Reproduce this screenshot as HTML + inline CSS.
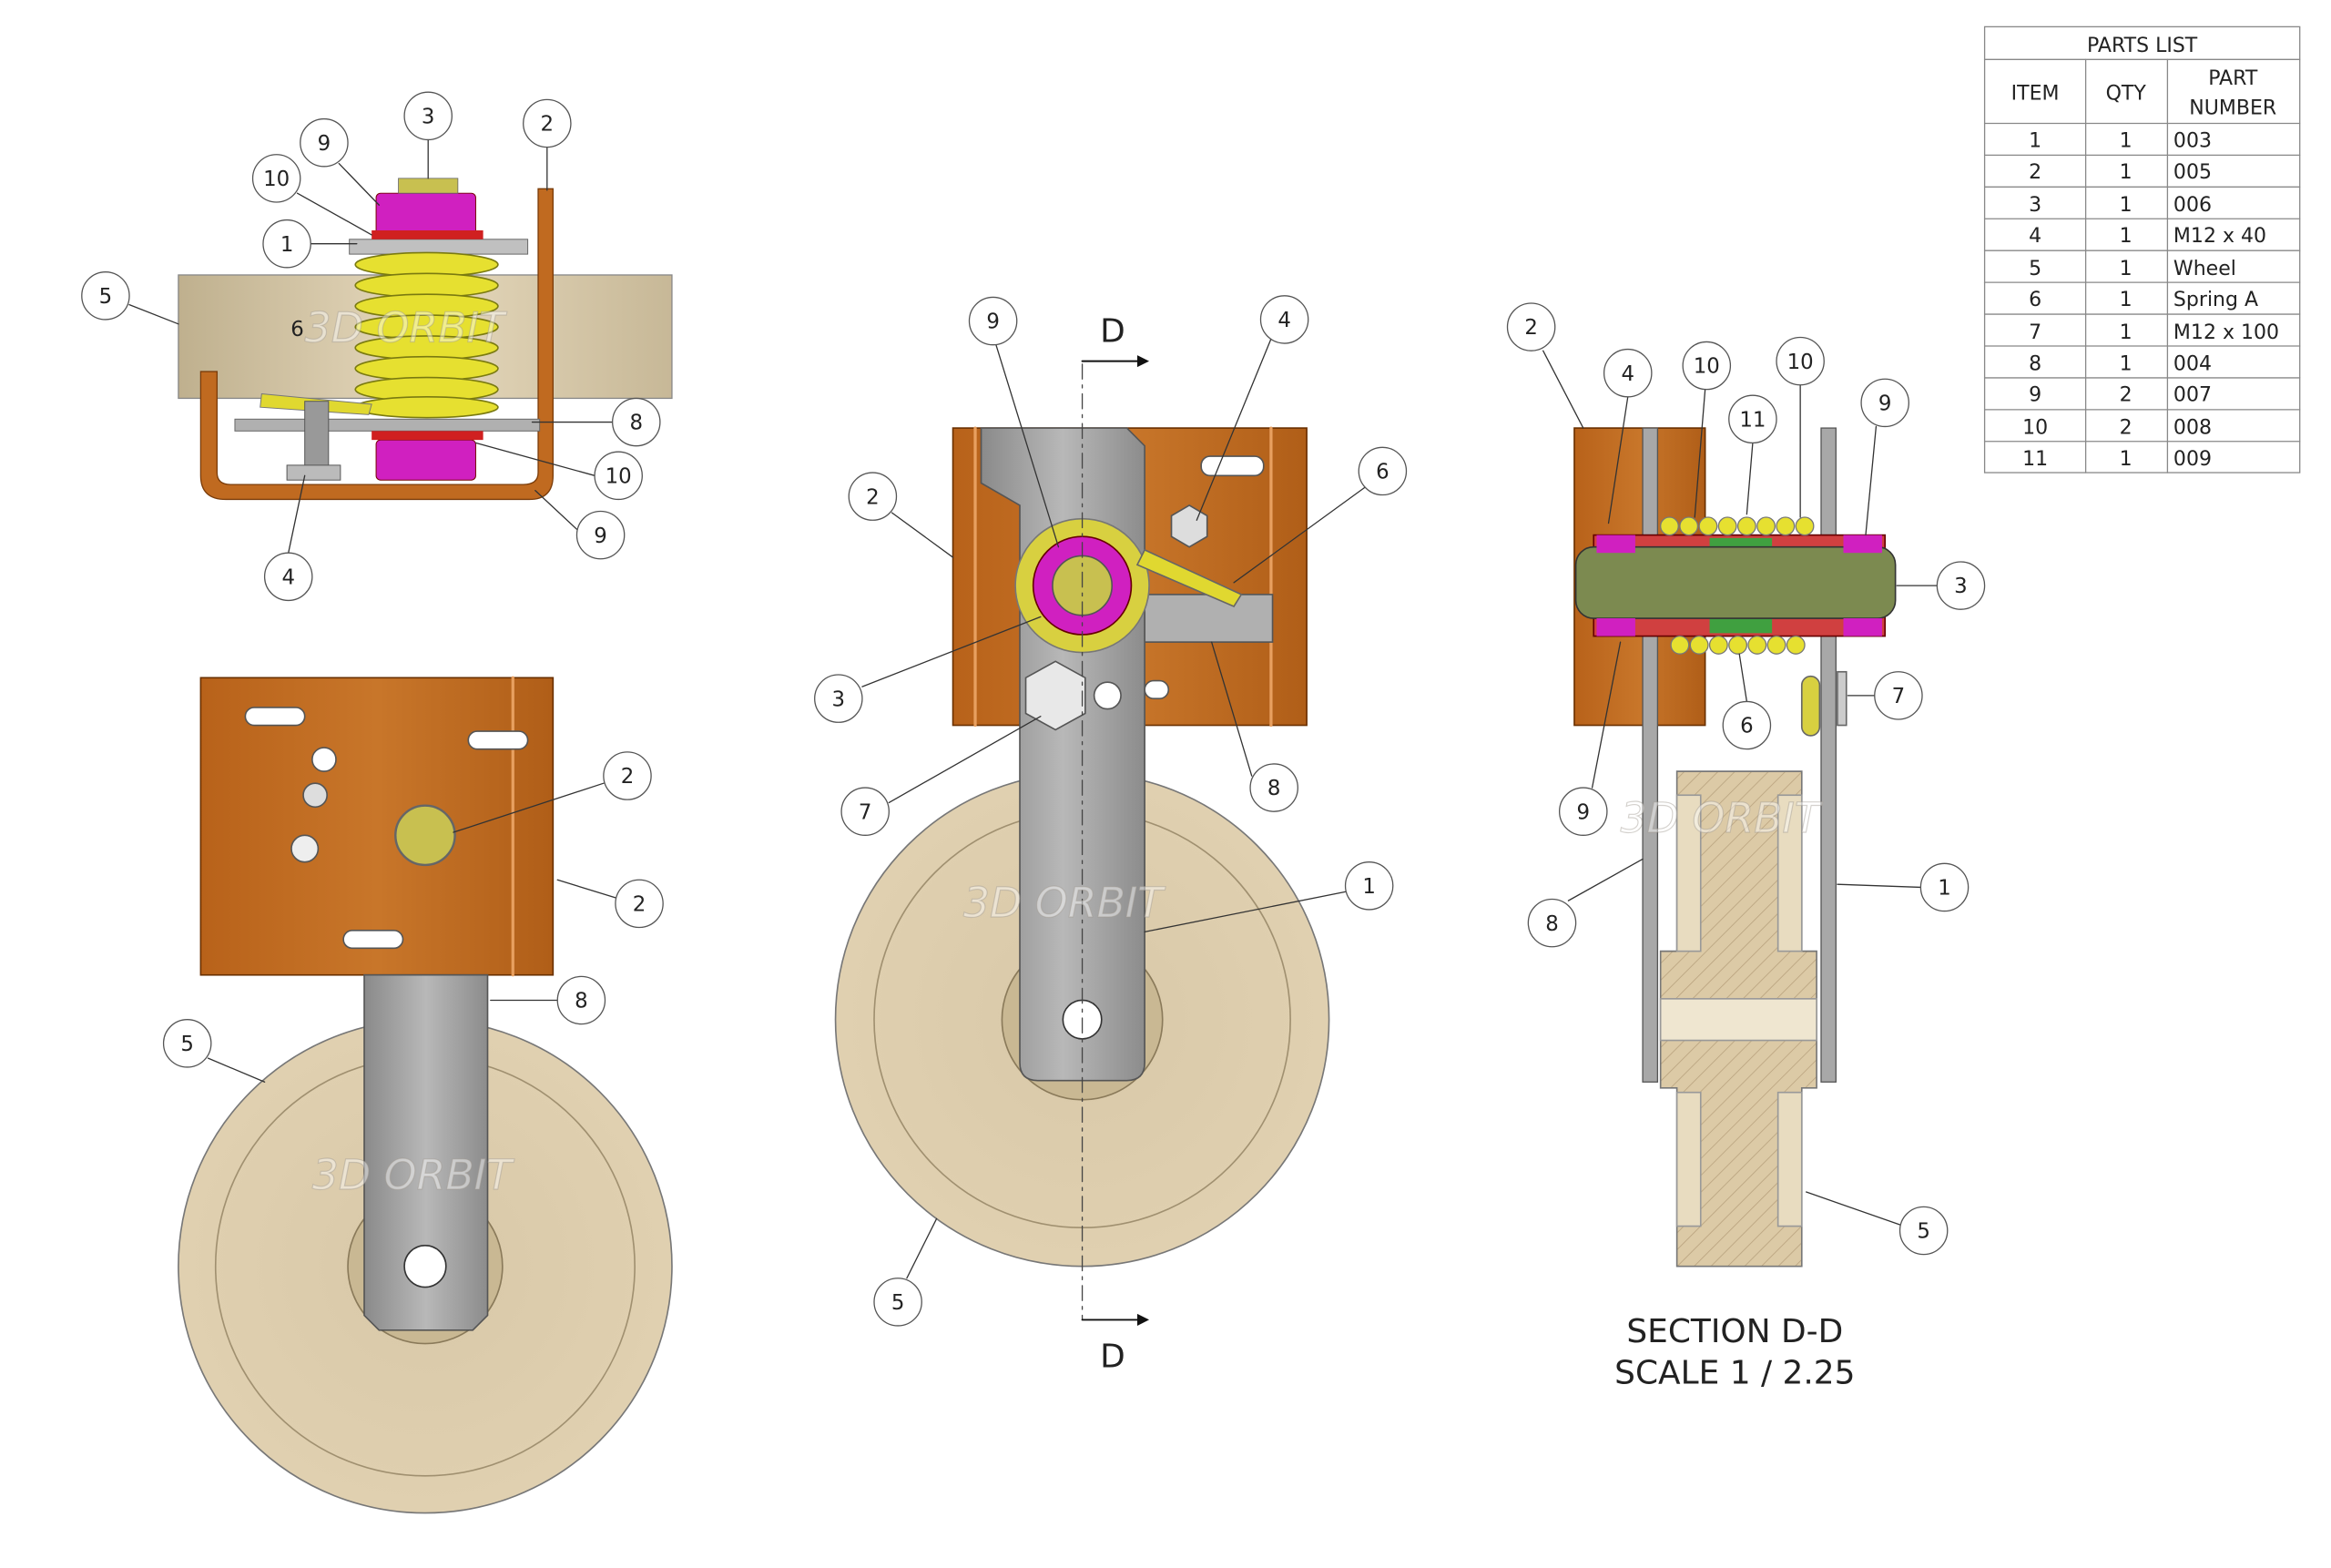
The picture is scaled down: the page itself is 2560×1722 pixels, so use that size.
<!DOCTYPE html>
<html><head><meta charset="utf-8"><style>
html,body{margin:0;padding:0;background:#fff}
svg{display:block}
text{font-family:"DejaVu Sans","Liberation Sans",sans-serif;fill:#222}
text.wm{fill:#ffffff;fill-opacity:.45;stroke:#a09a90;stroke-opacity:.45;stroke-width:.7;font-style:italic;font-size:28px}
</style></head><body>
<svg width="2560" height="1722" viewBox="0 0 1568 1055" preserveAspectRatio="none" xmlns="http://www.w3.org/2000/svg">
<defs>
<linearGradient id="or" x1="0" x2="1"><stop offset="0" stop-color="#b8621a"/><stop offset=".5" stop-color="#c8762a"/><stop offset="1" stop-color="#b05e18"/></linearGradient>
<linearGradient id="tan" x1="0" x2="1"><stop offset="0" stop-color="#bfb08e"/><stop offset=".5" stop-color="#e6d9bd"/><stop offset="1" stop-color="#c7b897"/></linearGradient>
<radialGradient id="wh"><stop offset="0" stop-color="#d8c8a8"/><stop offset="1" stop-color="#e0d0b0"/></radialGradient>
<linearGradient id="gr" x1="0" x2="1"><stop offset="0" stop-color="#8a8a8a"/><stop offset=".5" stop-color="#b8b8b8"/><stop offset="1" stop-color="#8c8c8c"/></linearGradient>
<pattern id="hatch" width="8" height="8" patternUnits="userSpaceOnUse" patternTransform="rotate(45)"><rect width="8" height="8" fill="#dccaa6"/><line x1="0" y1="0" x2="0" y2="8" stroke="#b9a37f" stroke-width="1"/></pattern>
</defs>
<g stroke-linecap="round">
<!-- TOP LEFT VIEW -->
<rect x="120" y="185" width="332" height="83" fill="url(#tan)" stroke="#888" stroke-width=".8"/>
<path d="M135 250 V320 Q135 336 152 336 H356 Q372 336 372 320 V127 H362 V318 Q362 326 352 326 H155 Q146 326 146 318 V250 Z" fill="#c06a20" stroke="#7a3c0a" stroke-width=".8"/>
<rect x="158" y="282" width="205" height="8" fill="#b0b0b0" stroke="#666" stroke-width=".6"/>
<rect x="235" y="161" width="120" height="10" fill="#c0c0c0" stroke="#666" stroke-width=".6"/>
<g fill="#e6e030" stroke="#7a7a10" stroke-width="1">
<ellipse cx="287" cy="178" rx="48" ry="8"/><ellipse cx="287" cy="192" rx="48" ry="8"/><ellipse cx="287" cy="206" rx="48" ry="8"/><ellipse cx="287" cy="220" rx="48" ry="8"/><ellipse cx="287" cy="234" rx="48" ry="8"/><ellipse cx="287" cy="248" rx="48" ry="8"/><ellipse cx="287" cy="262" rx="48" ry="8"/><ellipse cx="287" cy="274" rx="48" ry="7"/>
</g>
<path d="M176 265 L250 272 L248 279 L175 274 Z" fill="#e0d830" stroke="#777" stroke-width=".6"/>
<rect x="253" y="130" width="67" height="28" rx="3" fill="#d020c0" stroke="#700" stroke-width=".6"/>
<rect x="250" y="155" width="75" height="6" fill="#d02020"/>
<rect x="268" y="120" width="40" height="10" fill="#c8c050" stroke="#666" stroke-width=".5"/>
<rect x="253" y="296" width="67" height="27" rx="3" fill="#d020c0" stroke="#700" stroke-width=".6"/>
<rect x="250" y="290" width="75" height="6" fill="#d02020"/>
<rect x="205" y="270" width="16" height="44" fill="#999" stroke="#555" stroke-width=".6"/>
<rect x="193" y="313" width="36" height="10" fill="#bbb" stroke="#555" stroke-width=".6"/>
<text x="205" y="230" class="wm">3D ORBIT</text>

<!-- BOTTOM LEFT VIEW -->
<circle cx="286" cy="852" r="166" fill="url(#wh)" stroke="#777" stroke-width="1"/>
<circle cx="286" cy="852" r="141" fill="none" stroke="#a09070" stroke-width="1"/>
<circle cx="286" cy="852" r="52" fill="#c9b893" stroke="#8a7a5a" stroke-width="1"/>
<rect x="135" y="456" width="237" height="200" fill="url(#or)" stroke="#6a3000" stroke-width="1"/>
<line x1="345" y1="456" x2="345" y2="656" stroke="#e8a060" stroke-width="2"/>
<rect x="165" y="476" width="40" height="12" rx="6" fill="#fff" stroke="#555"/>
<rect x="315" y="492" width="40" height="12" rx="6" fill="#fff" stroke="#555"/>
<rect x="231" y="626" width="40" height="12" rx="6" fill="#fff" stroke="#555"/>
<circle cx="218" cy="511" r="8" fill="#fff" stroke="#555"/>
<circle cx="212" cy="535" r="8" fill="#ddd" stroke="#555"/>
<circle cx="205" cy="571" r="9" fill="#eee" stroke="#555"/>
<circle cx="286" cy="562" r="20" fill="#c8c050" stroke="#666" stroke-width="1.5"/>
<path d="M245 656 H328 V885 L318 895 H255 L245 885 Z" fill="url(#gr)" stroke="#555" stroke-width="1"/>
<circle cx="286" cy="852" r="14" fill="#fff" stroke="#333"/>
<text x="210" y="800" class="wm">3D ORBIT</text>

<!-- MIDDLE VIEW -->
<circle cx="728" cy="686" r="166" fill="url(#wh)" stroke="#777" stroke-width="1"/>
<circle cx="728" cy="686" r="140" fill="none" stroke="#a09070" stroke-width="1"/>
<circle cx="728" cy="686" r="54" fill="#c9b893" stroke="#8a7a5a"/>
<rect x="641" y="288" width="238" height="200" fill="url(#or)" stroke="#6a3000" stroke-width="1"/>
<line x1="656" y1="288" x2="656" y2="488" stroke="#e8a060" stroke-width="2"/>
<line x1="855" y1="288" x2="855" y2="488" stroke="#e8a060" stroke-width="2"/>
<rect x="808" y="307" width="42" height="13" rx="6" fill="#fff" stroke="#555"/>
<rect x="770" y="458" width="16" height="12" rx="6" fill="#fff" stroke="#555"/>
<rect x="770" y="400" width="86" height="32" fill="#b0b0b0" stroke="#555"/>
<path d="M660 288 H758 L770 300 V715 Q770 727 758 727 H698 Q686 727 686 715 V340 L660 325 Z" fill="url(#gr)" stroke="#555" stroke-width="1"/>
<circle cx="728" cy="686" r="13" fill="#fff" stroke="#333"/>
<circle cx="728" cy="394" r="45" fill="#d8d040" stroke="#777"/>
<circle cx="728" cy="394" r="33" fill="#d020c0" stroke="#600"/>
<circle cx="728" cy="394" r="20" fill="#c8c050" stroke="#555"/>
<path d="M770 370 L835 400 L830 408 L765 380 Z" fill="#e0d830" stroke="#666"/>
<polygon points="800,340 812,347 812,361 800,368 788,361 788,347" fill="#ddd" stroke="#555"/>
<polygon points="710,445 730,456 730,480 710,491 690,480 690,456" fill="#e8e8e8" stroke="#555"/>
<circle cx="745" cy="468" r="9" fill="#fff" stroke="#555"/>
<line x1="728" y1="245" x2="728" y2="888" stroke="#444" stroke-width=".8" stroke-dasharray="10,4,2,4"/>
<line x1="728" y1="243" x2="765" y2="243" stroke="#111" stroke-width="1.2"/><polygon points="765,239 765,247 773,243" fill="#111"/>
<line x1="728" y1="888" x2="765" y2="888" stroke="#111" stroke-width="1.2"/><polygon points="765,884 765,892 773,888" fill="#111"/>
<text x="740" y="230" font-size="22">D</text>
<text x="740" y="920" font-size="22">D</text>
<text x="648" y="617" class="wm">3D ORBIT</text>

<!-- RIGHT SECTION -->
<rect x="1059" y="288" width="88" height="200" fill="url(#or)" stroke="#6a3000"/>
<rect x="1105" y="288" width="10" height="440" fill="#a8a8a8" stroke="#555" stroke-width=".8"/>
<rect x="1225" y="288" width="10" height="440" fill="#a8a8a8" stroke="#555" stroke-width=".8"/>
<path d="M1128 519 H1212 V640 H1222 V732 H1212 V852 H1128 V732 H1117 V640 H1128 Z" fill="url(#hatch)" stroke="#777"/>
<rect x="1128" y="535" width="16" height="105" fill="#e8dcc0" stroke="#999"/>
<rect x="1196" y="535" width="16" height="105" fill="#e8dcc0" stroke="#999"/>
<rect x="1128" y="735" width="16" height="90" fill="#e8dcc0" stroke="#999"/>
<rect x="1196" y="735" width="16" height="90" fill="#e8dcc0" stroke="#999"/>
<rect x="1117" y="672" width="105" height="28" fill="#efe6d0" stroke="#999"/>
<rect x="1072" y="360" width="196" height="68" fill="#d04040" stroke="#600"/>
<rect x="1150" y="362" width="42" height="64" fill="#40a040"/>
<rect x="1060" y="368" width="215" height="48" rx="12" fill="#7c8a50" stroke="#333"/>
<rect x="1074" y="360" width="26" height="12" fill="#d020c0"/><rect x="1074" y="416" width="26" height="12" fill="#d020c0"/>
<rect x="1240" y="360" width="26" height="12" fill="#d020c0"/><rect x="1240" y="416" width="26" height="12" fill="#d020c0"/>
<g fill="#e6e030" stroke="#777" stroke-width=".8">
<circle cx="1123" cy="354" r="6"/><circle cx="1136" cy="354" r="6"/><circle cx="1149" cy="354" r="6"/><circle cx="1162" cy="354" r="6"/><circle cx="1175" cy="354" r="6"/><circle cx="1188" cy="354" r="6"/><circle cx="1201" cy="354" r="6"/><circle cx="1214" cy="354" r="6"/>
<circle cx="1130" cy="434" r="6"/><circle cx="1143" cy="434" r="6"/><circle cx="1156" cy="434" r="6"/><circle cx="1169" cy="434" r="6"/><circle cx="1182" cy="434" r="6"/><circle cx="1195" cy="434" r="6"/><circle cx="1208" cy="434" r="6"/>
</g>
<rect x="1212" y="455" width="12" height="40" rx="6" fill="#d8d040" stroke="#666"/>
<rect x="1236" y="452" width="6" height="36" fill="#ccc" stroke="#666"/>
<text x="1090" y="560" class="wm">3D ORBIT</text>
<text x="1167" y="903" font-size="22" text-anchor="middle">SECTION D-D</text>
<text x="1167" y="931" font-size="22" text-anchor="middle">SCALE 1 / 2.25</text>

<!-- LEADERS -->
<g stroke="#333" stroke-width=".8" fill="none">
<path d="M288 94 V120 M368 99 V128 M228 110 L255 138 M200 130 L250 158 M209 164 H240 M87 205 L120 218 M412 284 H358 M400 320 L320 298 M390 358 L360 330 M194 372 L205 320"/>
<path d="M406 527 L305 560 M414 604 L375 592 M375 673 H330 M140 712 L178 728"/>
<path d="M670 232 L712 368 M855 228 L805 350 M600 345 L641 375 M918 328 L830 392 M580 462 L700 415 M842 522 L815 432 M598 540 L700 482 M905 600 L770 627 M610 860 L630 820"/>
<path d="M1038 236 L1065 288 M1095 267 L1082 352 M1147 262 L1140 348 M1211 259 V348 M1179 298 L1175 346 M1262 287 L1255 360 M1303 394 H1276 M1261 468 H1243 M1175 472 L1170 440 M1071 530 L1090 432 M1292 597 L1236 595 M1055 606 L1105 578 M1278 824 L1215 802"/>
</g>
<!-- BALLOONS -->
<g fill="#fff" stroke="#555" stroke-width=".8">
<circle cx="288" cy="78" r="16"/><circle cx="368" cy="83" r="16"/><circle cx="218" cy="96" r="16"/><circle cx="186" cy="120" r="16"/><circle cx="193" cy="164" r="16"/><circle cx="71" cy="199" r="16"/><circle cx="428" cy="284" r="16"/><circle cx="416" cy="320" r="16"/><circle cx="404" cy="360" r="16"/><circle cx="194" cy="388" r="16"/>
<circle cx="422" cy="522" r="16"/><circle cx="430" cy="608" r="16"/><circle cx="391" cy="673" r="16"/><circle cx="126" cy="702" r="16"/>
<circle cx="668" cy="216" r="16"/><circle cx="864" cy="215" r="16"/><circle cx="587" cy="334" r="16"/><circle cx="930" cy="317" r="16"/><circle cx="564" cy="470" r="16"/><circle cx="857" cy="530" r="16"/><circle cx="582" cy="546" r="16"/><circle cx="921" cy="596" r="16"/><circle cx="604" cy="876" r="16"/>
<circle cx="1030" cy="220" r="16"/><circle cx="1095" cy="251" r="16"/><circle cx="1148" cy="246" r="16"/><circle cx="1211" cy="243" r="16"/><circle cx="1179" cy="282" r="16"/><circle cx="1268" cy="271" r="16"/><circle cx="1319" cy="394" r="16"/><circle cx="1277" cy="468" r="16"/><circle cx="1175" cy="488" r="16"/><circle cx="1065" cy="546" r="16"/><circle cx="1308" cy="597" r="16"/><circle cx="1044" cy="621" r="16"/><circle cx="1294" cy="828" r="16"/>
</g>
<g font-size="14" text-anchor="middle">
<text x="288" y="83">3</text><text x="368" y="88">2</text><text x="218" y="101">9</text><text x="186" y="125">10</text><text x="193" y="169">1</text><text x="71" y="204">5</text><text x="200" y="226">6</text><text x="428" y="289">8</text><text x="416" y="325">10</text><text x="404" y="365">9</text><text x="194" y="393">4</text>
<text x="422" y="527">2</text><text x="430" y="613">2</text><text x="391" y="678">8</text><text x="126" y="707">5</text>
<text x="668" y="221">9</text><text x="864" y="220">4</text><text x="587" y="339">2</text><text x="930" y="322">6</text><text x="564" y="475">3</text><text x="857" y="535">8</text><text x="582" y="551">7</text><text x="921" y="601">1</text><text x="604" y="881">5</text>
<text x="1030" y="225">2</text><text x="1095" y="256">4</text><text x="1148" y="251">10</text><text x="1211" y="248">10</text><text x="1179" y="287">11</text><text x="1268" y="276">9</text><text x="1319" y="399">3</text><text x="1277" y="473">7</text><text x="1175" y="493">6</text><text x="1065" y="551">9</text><text x="1308" y="602">1</text><text x="1044" y="626">8</text><text x="1294" y="833">5</text>
</g>

<!-- PARTS LIST -->
<g fill="none" stroke="#888" stroke-width=".8">
<rect x="1335" y="18" width="212" height="300"/>
<line x1="1335" y1="40" x2="1547" y2="40"/><line x1="1335" y1="83" x2="1547" y2="83"/>
<line x1="1403" y1="40" x2="1403" y2="318"/><line x1="1458" y1="40" x2="1458" y2="318"/>
<line x1="1335" y1="104.4" x2="1547" y2="104.4"/><line x1="1335" y1="125.8" x2="1547" y2="125.8"/><line x1="1335" y1="147.2" x2="1547" y2="147.2"/><line x1="1335" y1="168.6" x2="1547" y2="168.6"/><line x1="1335" y1="190" x2="1547" y2="190"/><line x1="1335" y1="211.4" x2="1547" y2="211.4"/><line x1="1335" y1="232.8" x2="1547" y2="232.8"/><line x1="1335" y1="254.2" x2="1547" y2="254.2"/><line x1="1335" y1="275.6" x2="1547" y2="275.6"/><line x1="1335" y1="297" x2="1547" y2="297"/>
</g>
<g font-size="13.5">
<text x="1441" y="35" text-anchor="middle">PARTS LIST</text>
<text x="1369" y="67" text-anchor="middle">ITEM</text><text x="1430" y="67" text-anchor="middle">QTY</text>
<text x="1502" y="57" text-anchor="middle">PART</text><text x="1502" y="77" text-anchor="middle">NUMBER</text>
</g>
<g font-size="13.5" text-anchor="middle">
<text x="1369" y="99">1</text><text x="1369" y="120">2</text><text x="1369" y="142">3</text><text x="1369" y="163">4</text><text x="1369" y="185">5</text><text x="1369" y="206">6</text><text x="1369" y="228">7</text><text x="1369" y="249">8</text><text x="1369" y="270">9</text><text x="1369" y="292">10</text><text x="1369" y="313">11</text>
<text x="1430" y="99">1</text><text x="1430" y="120">1</text><text x="1430" y="142">1</text><text x="1430" y="163">1</text><text x="1430" y="185">1</text><text x="1430" y="206">1</text><text x="1430" y="228">1</text><text x="1430" y="249">1</text><text x="1430" y="270">2</text><text x="1430" y="292">2</text><text x="1430" y="313">1</text>
</g>
<g font-size="13.5">
<text x="1462" y="99">003</text><text x="1462" y="120">005</text><text x="1462" y="142">006</text><text x="1462" y="163">M12 x 40</text><text x="1462" y="185">Wheel</text><text x="1462" y="206">Spring A</text><text x="1462" y="228">M12 x 100</text><text x="1462" y="249">004</text><text x="1462" y="270">007</text><text x="1462" y="292">008</text><text x="1462" y="313">009</text>
</g>
</g>
</svg>
</body></html>
